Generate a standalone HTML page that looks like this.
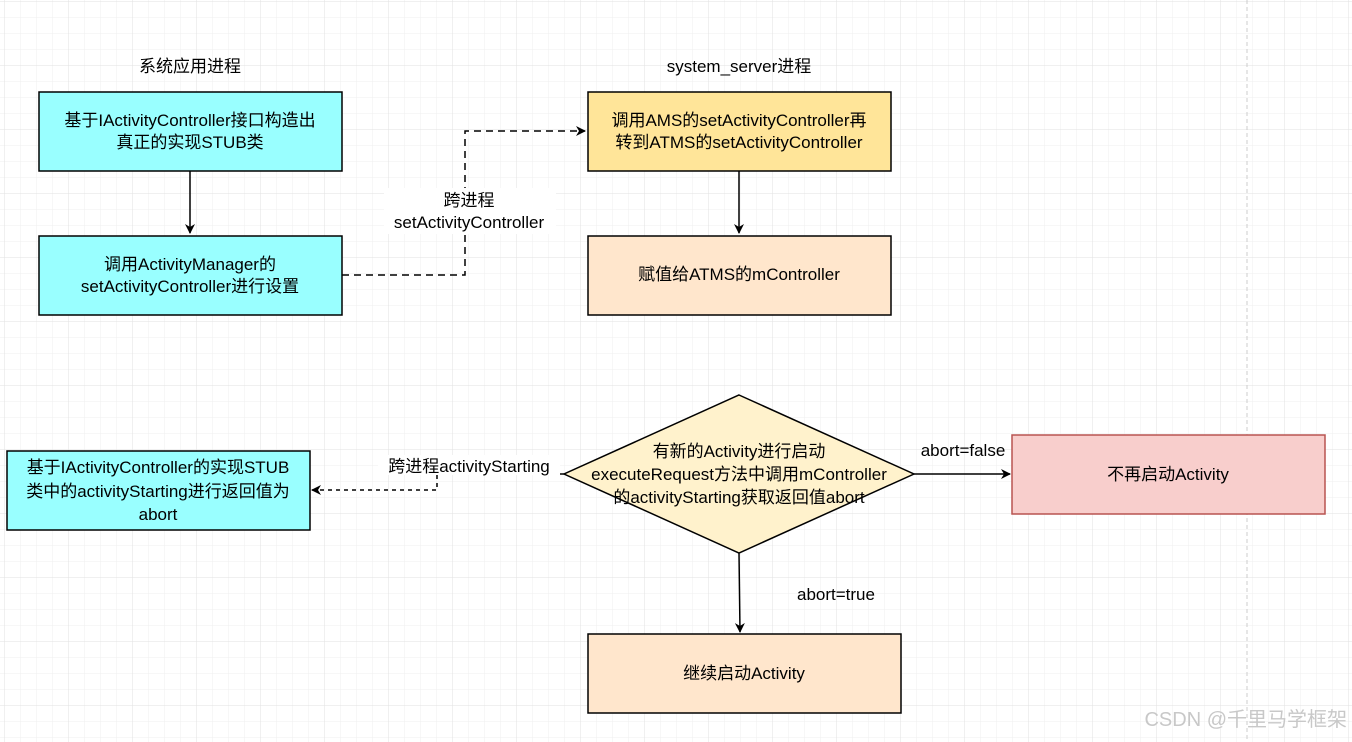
<!DOCTYPE html>
<html><head><meta charset="utf-8"><style>
html,body{margin:0;padding:0;background:#fff}
svg{display:block}
text{font-family:"Liberation Sans","Noto Sans CJK SC",sans-serif;font-size:17px;fill:#000}
</style></head><body>
<svg width="1352" height="742" viewBox="0 0 1352 742" xmlns="http://www.w3.org/2000/svg">
<defs>
<pattern id="g" x="4" y="1" width="16" height="16" patternUnits="userSpaceOnUse">
<path d="M0 0H16M0 0V16" stroke="#efefef" stroke-width="1" fill="none"/>
</pattern>
<pattern id="G" x="4" y="1" width="64" height="64" patternUnits="userSpaceOnUse">
<path d="M0 0H64M0 0V64" stroke="#e2e2e2" stroke-width="1" fill="none"/>
</pattern>
<marker id="a" markerWidth="10" markerHeight="10" refX="9" refY="5" orient="auto" markerUnits="userSpaceOnUse">
<path d="M0 0L10 5L0 10L3 5Z" fill="#000"/>
</marker>
</defs>
<rect width="1352" height="742" fill="url(#g)"/>
<rect width="1352" height="742" fill="url(#G)"/>
<line x1="1247" y1="0" x2="1247" y2="742" stroke="#ccc" stroke-dasharray="4 3"/>

<text x="190" y="72" text-anchor="middle">系统应用进程</text>
<text x="739" y="72" text-anchor="middle">system_server进程</text>

<rect x="39" y="92" width="303" height="79" fill="#99ffff" stroke="#000" stroke-width="1.5"/>
<text x="190" y="126" text-anchor="middle">基于IActivityController接口构造出</text>
<text x="190" y="148" text-anchor="middle">真正的实现STUB类</text>

<rect x="39" y="236" width="303" height="79" fill="#99ffff" stroke="#000" stroke-width="1.5"/>
<text x="190" y="270" text-anchor="middle">调用ActivityManager的</text>
<text x="190" y="292" text-anchor="middle">setActivityController进行设置</text>

<line x1="190" y1="171" x2="190" y2="233" stroke="#000" stroke-width="1.5" marker-end="url(#a)"/>

<path d="M342 275H465V131H585" fill="none" stroke="#000" stroke-width="1.5" stroke-dasharray="7 5" marker-end="url(#a)"/>
<rect x="384" y="188" width="172" height="46" fill="#fff"/>
<text x="469" y="206" text-anchor="middle">跨进程</text>
<text x="469" y="228" text-anchor="middle">setActivityController</text>

<rect x="588" y="92" width="303" height="79" fill="#ffe599" stroke="#000" stroke-width="1.5"/>
<text x="739" y="126" text-anchor="middle">调用AMS的setActivityController再</text>
<text x="739" y="148" text-anchor="middle">转到ATMS的setActivityController</text>

<line x1="739" y1="171" x2="739" y2="233" stroke="#000" stroke-width="1.5" marker-end="url(#a)"/>

<rect x="588" y="236" width="303" height="79" fill="#ffe6cc" stroke="#000" stroke-width="1.5"/>
<text x="739" y="280" text-anchor="middle">赋值给ATMS的mController</text>

<polygon points="739,395 914,474 739,553 564,474" fill="#fff2cc" stroke="#000" stroke-width="1.5"/>
<text x="739" y="457" text-anchor="middle">有新的Activity进行启动</text>
<text x="739" y="480" text-anchor="middle">executeRequest方法中调用mController</text>
<text x="739" y="503" text-anchor="middle">的activityStarting获取返回值abort</text>

<path d="M564 474H437V490H312" fill="none" stroke="#000" stroke-width="1.5" stroke-dasharray="4 4" marker-end="url(#a)"/>
<rect x="378" y="455" width="182" height="20" fill="#fff"/>
<text x="469" y="472" text-anchor="middle">跨进程activityStarting</text>

<rect x="7" y="451" width="303" height="79" fill="#99ffff" stroke="#000" stroke-width="1.5"/>
<text x="158" y="473" text-anchor="middle">基于IActivityController的实现STUB</text>
<text x="158" y="497" text-anchor="middle">类中的activityStarting进行返回值为</text>
<text x="158" y="520" text-anchor="middle">abort</text>

<line x1="914" y1="474" x2="1010" y2="474" stroke="#000" stroke-width="1.5" marker-end="url(#a)"/>
<text x="963" y="456" text-anchor="middle">abort=false</text>

<rect x="1012" y="435" width="313" height="79" fill="#f8cecc" stroke="#b85450" stroke-width="1.5"/>
<text x="1168" y="480" text-anchor="middle">不再启动Activity</text>

<path d="M739 553L740 632" fill="none" stroke="#000" stroke-width="1.5" marker-end="url(#a)"/>
<text x="836" y="600" text-anchor="middle">abort=true</text>

<rect x="588" y="634" width="313" height="79" fill="#ffe6cc" stroke="#000" stroke-width="1.5"/>
<text x="744" y="679" text-anchor="middle">继续启动Activity</text>

<text x="1347" y="726" text-anchor="end" style="font-size:20px;fill:#c8c8c8">CSDN @千里马学框架</text>
</svg>
</body></html>
